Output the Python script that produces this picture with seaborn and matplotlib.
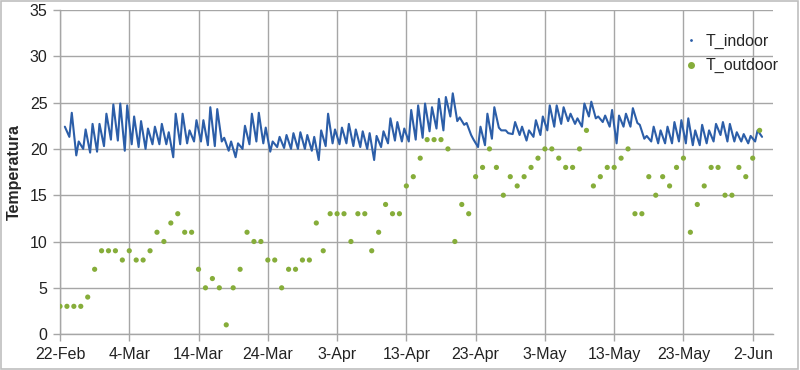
import matplotlib
matplotlib.use('Agg')
import matplotlib.pyplot as plt
import matplotlib.dates as mdates
from matplotlib.lines import Line2D
from matplotlib.patches import Rectangle
import seaborn as sns
import numpy as np
import pandas as pd

# daily outdoor temperature, one reading per day from 22-Feb
outdoor_temp = [3, 3, 3, 3, 4, 7, 9, 9, 9, 8, 9, 8, 8, 9, 11, 10, 12, 13, 11, 11,
                7, 5, 6, 5, 1, 5, 7, 11, 10, 10, 8, 8, 5, 7, 7, 8,
                8, 12, 9, 13, 13, 13, 10, 13, 13, 9, 11, 14, 13, 13, 16, 17, 19, 21, 21,
                21, 20, 10, 14, 13, 17, 18, 20, 18, 15, 17, 16, 17, 18, 19, 20,
                20, 19, 18, 18, 20, 22, 16, 17, 18, 18, 19, 20, 13, 13, 17, 15, 17, 16,
                18, 19, 11, 14, 16, 18, 18, 15, 15, 18, 17, 19, 22]

# indoor temperature: morning low and afternoon high for each day
indoor_low = [np.nan, 21.3, 19.3, 20.0, 19.6, 19.7, 20.3, 21.0, 20.9, 19.8,
              20.5, 20.2, 20.0, 20.5, 20.5, 20.5, 19.1, 20.5, 20.6, 20.8,
              20.8, 20.4, 20.3, 20.8, 19.8, 19.1, 20.0, 20.5, 20.8, 20.6,
              19.7, 20.2, 20.1, 20.0, 20.0, 20.0, 19.8, 18.8, 20.3, 20.6,
              20.5, 20.6, 20.3, 20.2, 20.0, 18.8, 20.2, 20.6, 20.9, 20.8,
              20.8, 21.0, 21.2, 21.9, 22.2, 22.0, 23.5, 23.0, 22.6, 21.5,
              20.2, 20.4, 21.1, 22.3, 22.0, 21.6, 21.5, 20.9, 21.3, 21.5,
              22.0, 22.4, 22.7, 23.0, 22.7, 22.4, 23.5, 23.3, 22.9, 22.4,
              20.6, 22.4, 22.4, 22.8, 21.1, 20.8, 20.6, 20.6, 20.6, 20.8,
              20.6, 20.4, 20.4, 20.6, 20.8, 21.5, 20.8, 20.8, 20.8, 20.6,
              20.8, 21.3]
indoor_high = [22.4, 23.9, 20.8, 22.1, 22.7, 22.7, 23.8, 24.8, 24.9, 24.7,
               23.5, 23.0, 22.2, 22.4, 22.7, 21.8, 23.8, 23.8, 22.0, 23.1,
               23.1, 24.5, 24.3, 21.2, 20.8, 20.6, 22.5, 23.8, 23.9, 22.3,
               20.8, 21.3, 21.5, 21.7, 21.8, 21.5, 21.3, 22.0, 23.8, 22.1,
               22.3, 22.7, 22.1, 21.9, 21.7, 21.4, 21.9, 23.3, 22.9, 22.2,
               24.2, 24.7, 24.9, 24.5, 25.4, 25.6, 26.0, 23.4, 22.8, 21.0,
               22.4, 23.8, 24.5, 22.0, 21.7, 22.9, 22.4, 22.0, 23.1, 23.5,
               24.7, 24.7, 24.5, 23.8, 23.3, 24.9, 25.1, 23.5, 23.6, 24.2,
               23.6, 23.8, 24.4, 22.6, 21.4, 22.4, 22.0, 22.4, 22.9, 23.1,
               23.3, 22.0, 22.6, 22.0, 22.7, 22.9, 22.7, 21.8, 21.6, 21.4,
               22.0, np.nan]

start = pd.Timestamp('2013-02-22')
n_days = len(outdoor_temp)
days = pd.date_range(start, periods=n_days, freq='D')

outdoor = pd.DataFrame({'date': days, 'temp': outdoor_temp})

rows = []
for i in range(len(indoor_low)):
    rows.append((start + pd.Timedelta(days=i + 0.35), indoor_low[i]))
    rows.append((start + pd.Timedelta(days=i + 0.7), indoor_high[i]))
indoor = pd.DataFrame(rows, columns=['time', 'temp']).dropna()

sns.set_style('white')
plt.rcParams['font.family'] = ['Liberation Sans', 'DejaVu Sans']

blue = '#2C5EA8'
green = '#86AD3A'
grid_c = '#A6A6A6'

fig = plt.figure(figsize=(8, 3.7), dpi=100)
ax = fig.add_axes([0.075, 0.097, 0.891, 0.876])

sns.lineplot(data=indoor, x='time', y='temp', color=blue, linewidth=1.5,
             sort=False, estimator=None, ax=ax, zorder=3)
sns.scatterplot(data=outdoor, x='date', y='temp', color=green, s=14,
                edgecolor='none', ax=ax, zorder=4)

ax.set_xlim(start, start + pd.Timedelta(days=102.9))
ax.set_ylim(0, 35)
ax.set_yticks(range(0, 36, 5))
ax.set_xticks(pd.date_range(start, periods=11, freq='10D'))
ax.xaxis.set_major_formatter(mdates.DateFormatter('%-d-%b'))

ax.grid(True, color=grid_c, linewidth=1, zorder=0)
for side in ['top', 'right']:
    ax.spines[side].set_visible(False)
for side in ['left', 'bottom']:
    ax.spines[side].set_color(grid_c)
    ax.spines[side].set_linewidth(1)
ax.tick_params(axis='both', which='major', length=5, width=1, color=grid_c,
               labelsize=11.5, labelcolor='#222222', pad=4, direction='out',
               bottom=True, left=True)

ax.set_xlabel('')
ax.set_ylabel('Temperatura', fontsize=11.5, fontweight='bold', labelpad=6)

handles = [
    Line2D([], [], color=blue, marker='.', markersize=2, linestyle='none'),
    Line2D([], [], color=green, marker='o', markersize=4, linestyle='none'),
]
ax.legend(handles, ['T_indoor', 'T_outdoor'], loc='upper left',
          bbox_to_anchor=(0.859, 0.972), frameon=False, fontsize=11.5,
          handlelength=0.6, handletextpad=0.6, labelspacing=0.6)

fig.patches.append(Rectangle((0.001, 0.002), 0.997, 0.995, transform=fig.transFigure,
                             fill=False, edgecolor='#BFBFBF', linewidth=1.2))

fig.savefig('out.png', dpi=100)
